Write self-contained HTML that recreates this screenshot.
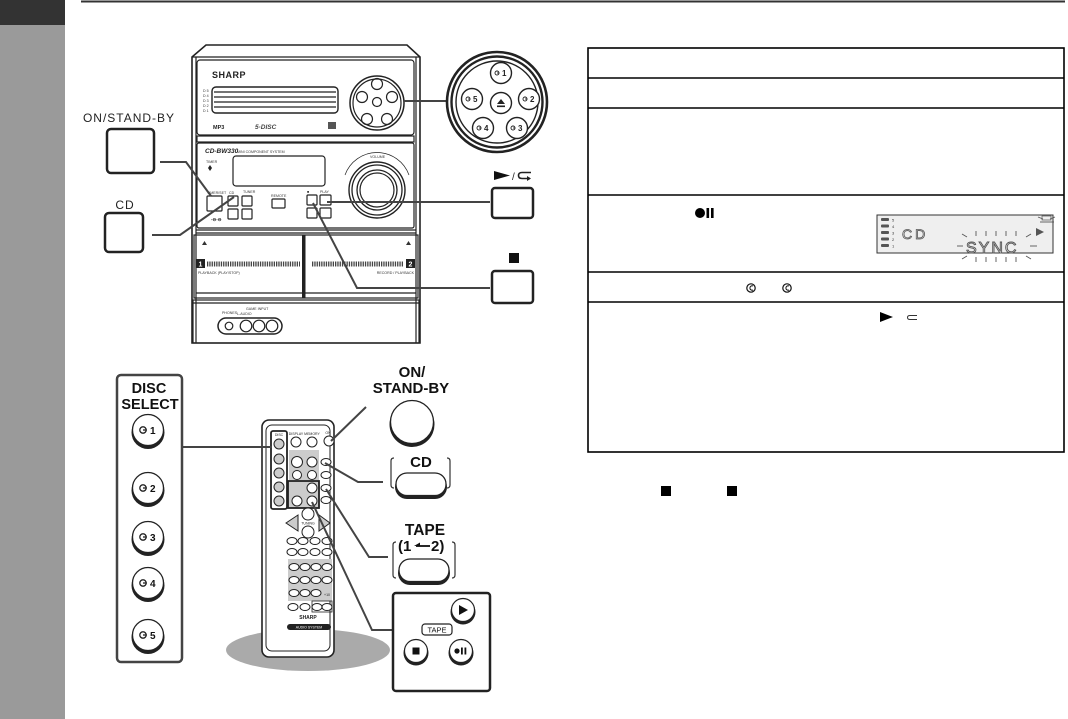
<!DOCTYPE html>
<html><head><meta charset="utf-8">
<style>
html,body{margin:0;padding:0;background:#fff;}
svg{display:block;}
text{font-family:"Liberation Sans",sans-serif;}
</style></head><body>
<svg width="1068" height="719" viewBox="0 0 1068 719" xmlns="http://www.w3.org/2000/svg">
<defs>
<g id="di"><circle r="3.2" fill="none" stroke="#222" stroke-width="1.3"/><line x1="0" y1="0" x2="3.8" y2="0" stroke="#222" stroke-width="1.3"/></g>
<g id="dis"><circle r="2" fill="none" stroke="#222" stroke-width="0.9"/><line x1="0" y1="0" x2="2.4" y2="0" stroke="#222" stroke-width="0.9"/></g>
</defs>

<!-- sidebar & header -->
<rect x="0" y="0" width="65" height="719" fill="#9a9a9a"/>
<rect x="0" y="0" width="65" height="25" fill="#333"/>
<line x1="81" y1="1.5" x2="1065" y2="1.5" stroke="#333" stroke-width="2"/>

<!-- TABLE -->
<g stroke="#000" stroke-width="1.6" fill="none">
<rect x="588" y="48" width="476" height="404"/>
<line x1="588" y1="78" x2="1064" y2="78"/>
<line x1="588" y1="108" x2="1064" y2="108"/>
<line x1="588" y1="195" x2="1064" y2="195"/>
<line x1="588" y1="272" x2="1064" y2="272"/>
<line x1="588" y1="302" x2="1064" y2="302"/>
</g>
<!-- row 4 rec/pause -->
<circle cx="700" cy="213" r="5" fill="#000"/>
<rect x="706.5" y="208" width="2.6" height="10" fill="#000"/>
<rect x="711" y="208" width="2.6" height="10" fill="#000"/>
<!-- LCD -->
<rect x="877" y="215" width="176" height="38" fill="#efefef" stroke="#333" stroke-width="1"/>
<g fill="#555">
<rect x="881" y="218" width="8" height="3" rx="1"/><rect x="881" y="224.5" width="8" height="3" rx="1"/><rect x="881" y="231" width="8" height="3" rx="1"/><rect x="881" y="237.5" width="8" height="3" rx="1"/><rect x="881" y="244" width="8" height="3" rx="1"/>
</g>
<g font-size="4" fill="#333"><text x="892" y="221.5">5</text><text x="892" y="228">4</text><text x="892" y="234.5">3</text><text x="892" y="241">2</text><text x="892" y="247.5">1</text></g>
<text x="902" y="239" font-family="Liberation Mono, monospace" font-size="14" fill="none" stroke="#555" stroke-width="0.8" letter-spacing="3">CD</text>
<text x="966" y="253" font-family="Liberation Mono, monospace" font-size="16" fill="none" stroke="#555" stroke-width="0.9" letter-spacing="2">SYNC</text>
<g stroke="#555" stroke-width="0.9">
<line x1="976" y1="231" x2="976" y2="236"/><line x1="986" y1="231" x2="986" y2="236"/><line x1="996" y1="231" x2="996" y2="236"/><line x1="1006" y1="231" x2="1006" y2="236"/><line x1="1016" y1="231" x2="1016" y2="236"/>
<line x1="976" y1="257" x2="976" y2="262"/><line x1="986" y1="257" x2="986" y2="262"/><line x1="996" y1="257" x2="996" y2="262"/><line x1="1006" y1="257" x2="1006" y2="262"/><line x1="1016" y1="257" x2="1016" y2="262"/>
<line x1="957" y1="246" x2="963" y2="246"/><line x1="1030" y1="246" x2="1037" y2="246"/>
<line x1="962" y1="234" x2="967" y2="237"/><line x1="1026" y1="237" x2="1031" y2="234"/>
<line x1="962" y1="259" x2="967" y2="256"/><line x1="1026" y1="256" x2="1031" y2="259"/>
<line x1="1038" y1="217" x2="1043" y2="219"/><line x1="1050" y1="219" x2="1055" y2="217"/><line x1="1040" y1="222" x2="1054" y2="222"/>
</g>
<rect x="1042" y="216" width="9" height="4" fill="none" stroke="#555" stroke-width="0.7"/>
<path d="M1036,228 L1044,232 L1036,236 Z" fill="#555"/>
<!-- row 5 discs -->
<circle cx="751" cy="288" r="4.2" fill="none" stroke="#111" stroke-width="1.2"/><path d="M753,286 A2.2,2.2 0 1 0 753,290" fill="none" stroke="#111" stroke-width="1"/>
<circle cx="787" cy="288" r="4.2" fill="none" stroke="#111" stroke-width="1.2"/><path d="M789,286 A2.2,2.2 0 1 0 789,290" fill="none" stroke="#111" stroke-width="1"/>
<!-- row 6 play -->
<path d="M880,312 L893,317 L880,322 Z" fill="#000"/>
<path d="M917,315.5 H910 Q907.5,315.5 907.5,317.5 Q907.5,319.5 910,319.5 H917" fill="none" stroke="#333" stroke-width="1"/>
<!-- stop squares below table -->
<rect x="661" y="486" width="10" height="10" fill="#000"/>
<rect x="727" y="486" width="10" height="10" fill="#000"/>

<!-- MAIN UNIT -->
<path d="M192,343 L192,57 L206,45 L407,45 L420,57 L420,343 Z" fill="#fff" stroke="#222" stroke-width="1.6"/>
<g stroke="#222" fill="none" stroke-width="1.2">
<line x1="192" y1="57" x2="420" y2="57"/>
<line x1="196" y1="57" x2="196" y2="343"/>
<line x1="416" y1="57" x2="416" y2="343"/>
<rect x="197" y="60" width="217" height="75" rx="3"/>
<rect x="212" y="87" width="126" height="26" rx="4" stroke-width="1.4"/>
<line x1="214" y1="92" x2="336" y2="92"/><line x1="214" y1="97" x2="336" y2="97"/><line x1="214" y1="102" x2="336" y2="102"/><line x1="214" y1="107" x2="336" y2="107"/>
<rect x="197" y="136" width="217" height="6"/>
<rect x="197" y="143" width="217" height="85" rx="2"/>
<rect x="233" y="156" width="92" height="30" rx="3"/>
<circle cx="377" cy="190" r="28" stroke-width="1.4"/>
<circle cx="377" cy="190" r="25" stroke-width="1.3"/>
<circle cx="377" cy="190" r="20" stroke-width="1.3"/>
<circle cx="377" cy="190" r="17"/>
<path d="M345,175 A34,34 0 0 1 409,175" stroke-width="0.7"/>
<rect x="207" y="196" width="15" height="15" rx="1"/>
<rect x="228" y="196" width="10" height="10" rx="1"/><rect x="242" y="196" width="10" height="10" rx="1"/>
<rect x="228" y="209" width="10" height="10" rx="1"/><rect x="242" y="209" width="10" height="10" rx="1"/>
<rect x="272" y="199" width="13" height="9" rx="1"/>
<rect x="307" y="195" width="10" height="10" rx="1"/><rect x="320" y="195" width="11" height="10" rx="1"/>
<rect x="307" y="208" width="10" height="10" rx="1"/><rect x="320" y="208" width="11" height="10" rx="1"/>
<line x1="196" y1="230" x2="416" y2="230"/><line x1="196" y1="233" x2="416" y2="233"/>
<rect x="194" y="235" width="224" height="63"/>
<line x1="196" y1="293" x2="416" y2="293"/>
<rect x="193" y="300" width="226" height="43"/>
<line x1="193" y1="303" x2="419" y2="303"/>
<rect x="218" y="318" width="64" height="16" rx="8" stroke-width="1.5"/>
<circle cx="229" cy="326" r="3.8"/><circle cx="246" cy="326" r="5.8"/><circle cx="259" cy="326" r="5.8"/><circle cx="272" cy="326" r="5.8"/>
<circle cx="377" cy="103" r="27" stroke-width="1.5"/>
<circle cx="377" cy="103" r="24"/>
<circle cx="377" cy="84" r="5.5"/><circle cx="362" cy="97" r="5.5"/><circle cx="392" cy="97" r="5.5"/>
<circle cx="367" cy="119" r="5.5"/><circle cx="387" cy="119" r="5.5"/><circle cx="377" cy="102" r="4.5"/>
</g>
<rect x="302" y="235" width="3.5" height="63" fill="#222"/>
<g stroke="#444" stroke-width="5" stroke-dasharray="1.3 1">
<line x1="207" y1="264" x2="300" y2="264"/>
<line x1="312" y1="264" x2="404" y2="264"/>
</g>
<rect x="196" y="259" width="9" height="9" fill="#222"/><text x="200.5" y="266.5" font-size="7" fill="#fff" text-anchor="middle" font-weight="bold">1</text>
<rect x="406" y="259" width="9" height="9" fill="#222"/><text x="410.5" y="266.5" font-size="7" fill="#fff" text-anchor="middle" font-weight="bold">2</text>
<path d="M202,245 L204.5,241 L207,245 Z" fill="#333"/><path d="M406,245 L408.5,241 L411,245 Z" fill="#333"/>
<g font-size="3.6" fill="#333">
<text x="198" y="274">PLAYBACK (PLAY/STOP)</text>
<text x="414" y="274" text-anchor="end">RECORD / PLAYBACK</text>
<text x="222" y="314">PHONES</text>
<text x="246" y="310">GAME INPUT</text>
<text x="237" y="315">L-AUDIO</text>
<text x="203" y="92">D 5</text><text x="203" y="97">D 4</text><text x="203" y="102">D 3</text><text x="203" y="107">D 2</text><text x="203" y="112">D 1</text>
<text x="237" y="153">MINI COMPONENT SYSTEM</text>
<text x="206" y="163">TIMER</text>
<text x="207" y="194">TIMER/SET</text>
<text x="229" y="194">CD</text><text x="243" y="193">TUNER</text>
<text x="271" y="197">REMOTE</text>
<text x="307" y="193">■</text><text x="320" y="193">PLAY</text>
<text x="370" y="158">VOLUME</text>
</g>
<text x="212" y="78" font-size="9" font-weight="bold" fill="#222" letter-spacing="0.5">SHARP</text>
<text x="213" y="129" font-size="5.5" font-weight="bold" fill="#222">MP3</text>
<text x="255" y="129" font-size="6.5" font-weight="bold" fill="#444" font-style="italic">5·DISC</text>
<rect x="328" y="122" width="8" height="7" fill="#555"/>
<text x="205" y="153" font-size="6.5" font-weight="bold" font-style="italic" fill="#222">CD-BW330</text>
<path d="M210,165 L212,168 L210,171 L208,168 Z" fill="#222"/>
<text x="211" y="221" font-size="4.5" font-weight="bold" fill="#222">-⊖-⊖</text>

<!-- connectors top -->
<g stroke="#444" stroke-width="2" fill="none">
<polyline points="160,162 186,162 211,196"/>
<polyline points="152,235 180,235 234,197"/>
<line x1="404" y1="101" x2="447" y2="101"/>
<line x1="327" y1="202" x2="490" y2="202"/>
<polyline points="313,203 357,288 490,288"/>
</g>

<!-- ON/STAND-BY & CD boxes -->
<text x="129" y="122" font-size="12" text-anchor="middle" letter-spacing="1" fill="#222">ON/STAND-BY</text>
<rect x="107" y="129" width="47" height="44" rx="4" fill="#fff" stroke="#222" stroke-width="2.5"/>
<text x="125" y="209" font-size="12" text-anchor="middle" letter-spacing="1" fill="#222">CD</text>
<rect x="105" y="213" width="38" height="39" rx="4" fill="#fff" stroke="#222" stroke-width="2.5"/>

<!-- big disc circle -->
<circle cx="497" cy="102" r="50" fill="#fff" stroke="#222" stroke-width="2.6"/>
<circle cx="497" cy="102" r="45.5" fill="none" stroke="#222" stroke-width="2.4"/>
<circle cx="497" cy="102" r="41" fill="none" stroke="#222" stroke-width="1.4"/>
<g fill="#fff" stroke="#222" stroke-width="1.4">
<circle cx="501" cy="73" r="10.5"/><circle cx="472" cy="99" r="10.5"/><circle cx="529" cy="99" r="10.5"/>
<circle cx="483" cy="128" r="10.5"/><circle cx="517" cy="128" r="10.5"/><circle cx="501" cy="103" r="10.5"/>
</g>
<use href="#dis" x="497" y="73"/><use href="#dis" x="468" y="99"/><use href="#dis" x="525" y="99"/><use href="#dis" x="479" y="128"/><use href="#dis" x="513" y="128"/>
<g font-size="8" fill="#222" font-weight="bold">
<text x="502" y="76">1</text><text x="473" y="102">5</text><text x="530" y="102">2</text><text x="484" y="131">4</text><text x="518" y="131">3</text>
</g>
<path d="M497,104 L501,99 L505,104 Z" fill="#222"/><rect x="497" y="105.5" width="8" height="1.6" fill="#222"/>

<!-- play box -->
<path d="M494,171 L510,175.5 L494,180 Z" fill="#111"/>
<text x="512" y="180" font-size="10" fill="#222">/</text>
<path d="M531,172.5 H522 Q518.5,172.5 518.5,175.5 Q518.5,178.5 522,178.5 H530" fill="none" stroke="#222" stroke-width="1.6"/>
<path d="M527,176 L531,178.5 L527,181 Z" fill="#222"/>
<rect x="492" y="188" width="41" height="30" rx="3" fill="#fff" stroke="#222" stroke-width="2.5"/>
<rect x="509" y="253" width="10" height="10" fill="#111"/>
<rect x="492" y="271" width="41" height="32" rx="3" fill="#fff" stroke="#222" stroke-width="2.5"/>

<!-- REMOTE SECTION -->
<ellipse cx="308" cy="650" rx="82" ry="21" fill="#aaa"/>
<rect x="262" y="420" width="72" height="237" rx="7" fill="#fff" stroke="#222" stroke-width="1.6"/>
<rect x="266" y="425" width="64" height="226" rx="6" fill="none" stroke="#222" stroke-width="1"/>
<rect x="271" y="431" width="16" height="78" rx="2" fill="none" stroke="#222" stroke-width="1.8"/>
<g fill="#ccc" stroke="#222" stroke-width="1">
<circle cx="279" cy="444" r="5"/><circle cx="279" cy="459" r="5"/><circle cx="279" cy="473" r="5"/><circle cx="279" cy="487" r="5"/><circle cx="279" cy="501" r="5"/>
</g>
<rect x="289" y="450" width="30" height="30" fill="#ccc"/>
<rect x="288" y="481" width="31" height="27" fill="#ccc" stroke="#222" stroke-width="1.8"/>
<g fill="#fff" stroke="#222" stroke-width="1">
<circle cx="296" cy="442" r="5"/><circle cx="312" cy="442" r="5"/><circle cx="329" cy="441" r="5"/>
<circle cx="297" cy="462" r="5.5"/><circle cx="312" cy="462" r="5"/>
<circle cx="297" cy="475" r="4.5"/><circle cx="312" cy="475" r="4.5"/>
<circle cx="312" cy="488" r="5"/><circle cx="297" cy="501" r="5"/><circle cx="312" cy="501" r="5"/>
<ellipse cx="326" cy="462" rx="5" ry="3.5"/><ellipse cx="326" cy="475" rx="5" ry="3.5"/><ellipse cx="326" cy="488" rx="5" ry="3.5"/><ellipse cx="326" cy="500" rx="5" ry="3.5"/>
<circle cx="308" cy="514" r="6"/><circle cx="308" cy="532" r="6"/>
<ellipse cx="292" cy="541" rx="5" ry="3.5"/><ellipse cx="303" cy="541" rx="5" ry="3.5"/><ellipse cx="315" cy="541" rx="5" ry="3.5"/><ellipse cx="327" cy="541" rx="5" ry="3.5"/>
<ellipse cx="292" cy="552" rx="5" ry="3.5"/><ellipse cx="303" cy="552" rx="5" ry="3.5"/><ellipse cx="315" cy="552" rx="5" ry="3.5"/><ellipse cx="327" cy="552" rx="5" ry="3.5"/>
</g>
<path d="M286,523 L298,515 L298,531 Z" fill="#ccc" stroke="#222" stroke-width="1"/>
<path d="M330,523 L319,515 L319,531 Z" fill="#ccc" stroke="#222" stroke-width="1"/>
<rect x="288" y="559" width="44" height="42" fill="#ccc"/>
<g fill="#fff" stroke="#222" stroke-width="1">
<ellipse cx="294" cy="567" rx="5" ry="3.5"/><ellipse cx="305" cy="567" rx="5" ry="3.5"/><ellipse cx="316" cy="567" rx="5" ry="3.5"/><ellipse cx="327" cy="567" rx="5" ry="3.5"/>
<ellipse cx="294" cy="580" rx="5" ry="3.5"/><ellipse cx="305" cy="580" rx="5" ry="3.5"/><ellipse cx="316" cy="580" rx="5" ry="3.5"/><ellipse cx="327" cy="580" rx="5" ry="3.5"/>
<ellipse cx="294" cy="593" rx="5" ry="3.5"/><ellipse cx="305" cy="593" rx="5" ry="3.5"/><ellipse cx="316" cy="593" rx="5" ry="3.5"/>
<ellipse cx="293" cy="607" rx="5" ry="3.5"/><ellipse cx="305" cy="607" rx="5" ry="3.5"/><ellipse cx="317" cy="607" rx="5" ry="3.5"/><ellipse cx="327" cy="607" rx="5" ry="3.5"/>
</g>
<rect x="312" y="601" width="20" height="11" fill="none" stroke="#222" stroke-width="0.8"/>
<g font-size="3.5" fill="#222" text-anchor="middle">
<text x="279" y="436">DISC</text><text x="296" y="435">DISPLAY</text><text x="312" y="435">MEMORY</text><text x="328" y="434">ON</text>
<text x="308" y="524.5">TUNING</text><text x="327" y="596">+10</text><text x="308" y="619" font-size="5" font-weight="bold">SHARP</text>
</g>
<rect x="287" y="624" width="44" height="6" rx="3" fill="#222"/>
<text x="309" y="628.7" font-size="3.5" fill="#fff" text-anchor="middle">AUDIO SYSTEM</text>

<!-- DISC SELECT panel -->
<rect x="117" y="375" width="65" height="287" rx="4" fill="#fff" stroke="#444" stroke-width="2.5"/>
<text x="149" y="393" font-size="14.5" font-weight="bold" text-anchor="middle" fill="#111">DISC</text>
<text x="150" y="409" font-size="14.5" font-weight="bold" text-anchor="middle" fill="#111">SELECT</text>
<g>
<circle cx="148" cy="432.5" r="16.5" fill="#222"/><circle cx="148" cy="430" r="15.5" fill="#fff" stroke="#222" stroke-width="1.3"/>
<circle cx="148" cy="490.5" r="16.5" fill="#222"/><circle cx="148" cy="488" r="15.5" fill="#fff" stroke="#222" stroke-width="1.3"/>
<circle cx="148" cy="539.5" r="16.5" fill="#222"/><circle cx="148" cy="537" r="15.5" fill="#fff" stroke="#222" stroke-width="1.3"/>
<circle cx="148" cy="585.5" r="16.5" fill="#222"/><circle cx="148" cy="583" r="15.5" fill="#fff" stroke="#222" stroke-width="1.3"/>
<circle cx="148" cy="637.5" r="16.5" fill="#222"/><circle cx="148" cy="635" r="15.5" fill="#fff" stroke="#222" stroke-width="1.3"/>
</g>
<use href="#di" x="143" y="430"/><use href="#di" x="143" y="488"/><use href="#di" x="143" y="537"/><use href="#di" x="143" y="583"/><use href="#di" x="143" y="635"/>
<g font-size="10" font-weight="bold" fill="#111">
<text x="150" y="434">1</text><text x="150" y="492">2</text><text x="150" y="541">3</text><text x="150" y="587">4</text><text x="150" y="639">5</text>
</g>

<!-- remote connectors -->
<g stroke="#444" stroke-width="2" fill="none">
<line x1="183" y1="447" x2="272" y2="447"/>
<line x1="366" y1="407" x2="331" y2="441"/>
<polyline points="383,482 358,482 325,463"/>
<polyline points="388,557 369,557 326,489"/>
<polyline points="393,630 372,630 312,502"/>
</g>

<!-- right callouts -->
<text x="412" y="377" font-size="15" font-weight="bold" text-anchor="middle" fill="#111">ON/</text>
<text x="411" y="393" font-size="15" font-weight="bold" text-anchor="middle" fill="#111">STAND-BY</text>
<circle cx="412" cy="424.5" r="22.5" fill="#222"/>
<circle cx="412" cy="422" r="21.5" fill="#fff" stroke="#222" stroke-width="1.3"/>

<text x="421" y="467" font-size="15" font-weight="bold" text-anchor="middle" fill="#111">CD</text>
<path d="M394,458 Q391,458 391,461 V485 Q391,488 394,488" fill="none" stroke="#333" stroke-width="1.2"/>
<path d="M447,458 Q450,458 450,461 V485 Q450,488 447,488" fill="none" stroke="#333" stroke-width="1.2"/>
<rect x="395" y="475" width="52" height="24" rx="12" fill="#222"/>
<rect x="396" y="473" width="50" height="22.5" rx="11" fill="#fff" stroke="#222" stroke-width="1.3"/>

<text x="425" y="535" font-size="15.5" font-weight="bold" text-anchor="middle" fill="#111">TAPE</text>
<text x="398" y="551" font-size="15" font-weight="bold" fill="#111">(1</text>
<line x1="416" y1="546" x2="430" y2="546" stroke="#111" stroke-width="1.8"/>
<path d="M414,546 L420,542.5 L420,546 Z" fill="#111"/>
<text x="431" y="551" font-size="15" font-weight="bold" fill="#111">2)</text>
<path d="M396,542 Q393,542 393,545 V575 Q393,578 396,578" fill="none" stroke="#333" stroke-width="1.2"/>
<path d="M452,542 Q455,542 455,545 V575 Q455,578 452,578" fill="none" stroke="#333" stroke-width="1.2"/>
<rect x="398" y="561" width="52" height="24" rx="12" fill="#222"/>
<rect x="399" y="559" width="50" height="22.5" rx="11" fill="#fff" stroke="#222" stroke-width="1.3"/>

<!-- tape box -->
<rect x="393" y="593" width="97" height="98" rx="3" fill="#fff" stroke="#222" stroke-width="2.5"/>
<circle cx="463" cy="612" r="12.5" fill="#222"/><circle cx="463" cy="610" r="11.5" fill="#fff" stroke="#222" stroke-width="1.2"/>
<path d="M459,605 L468,610 L459,615 Z" fill="#111"/>
<rect x="422" y="624" width="30" height="11" rx="3" fill="#fff" stroke="#222" stroke-width="1.2"/>
<text x="437" y="632.5" font-size="7.5" text-anchor="middle" fill="#111">TAPE</text>
<circle cx="416" cy="653" r="12.5" fill="#222"/><circle cx="416" cy="651" r="11.5" fill="#fff" stroke="#222" stroke-width="1.2"/>
<rect x="412.5" y="647.5" width="7" height="7" fill="#111"/>
<circle cx="461" cy="653" r="12.5" fill="#222"/><circle cx="461" cy="651" r="11.5" fill="#fff" stroke="#222" stroke-width="1.2"/>
<circle cx="457" cy="651" r="2.6" fill="#111"/><rect x="461" y="647.5" width="1.8" height="7" fill="#111"/><rect x="464.5" y="647.5" width="1.8" height="7" fill="#111"/>
</svg>
</body></html>
